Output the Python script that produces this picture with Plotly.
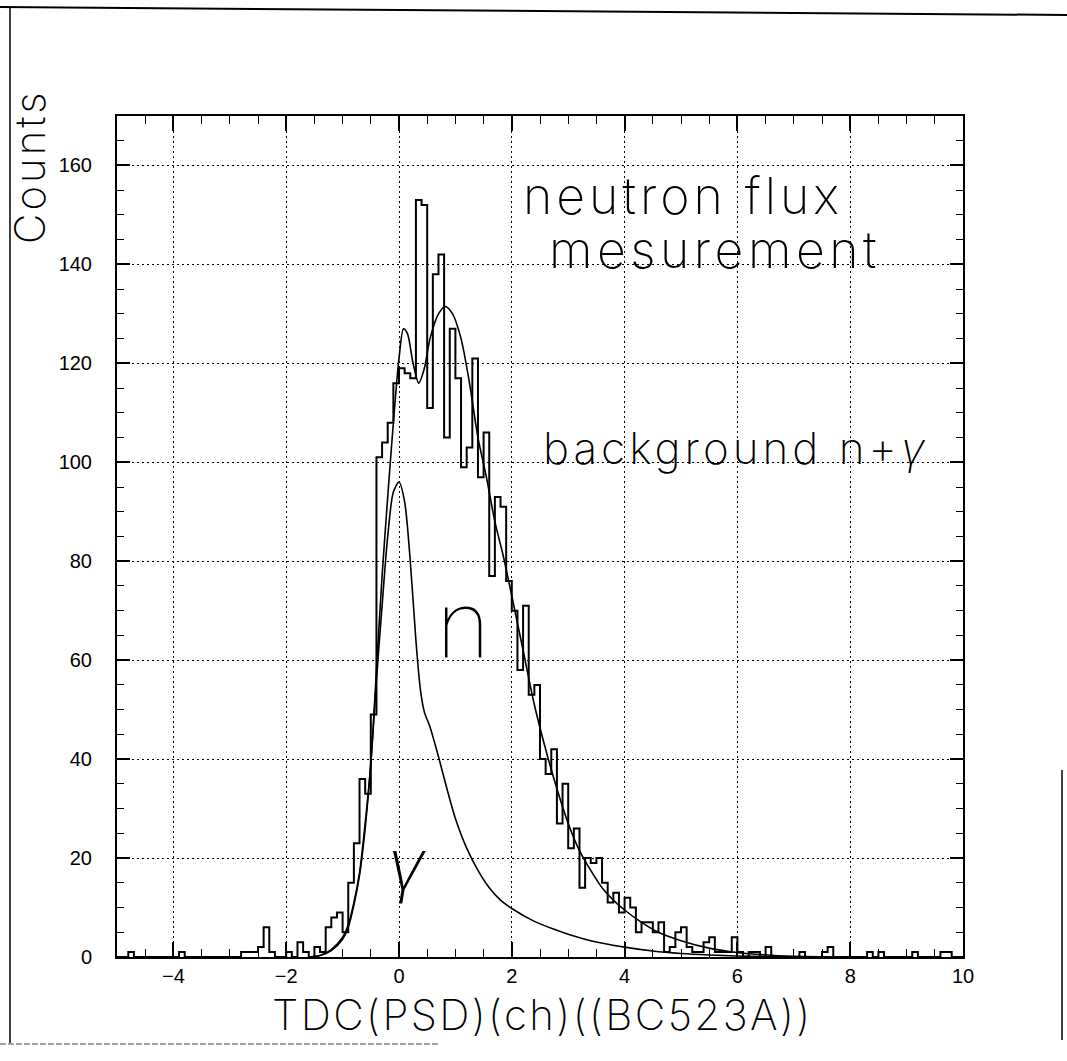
import numpy as np
import plotly.graph_objects as go

# ---------------- data ----------------
bin_start = -5.0
bin_width = 0.1
counts = [0] * 150
nonzero_bins = {
    -4.8: 1, -3.9: 1,
    -2.8: 1, -2.7: 1, -2.6: 1, -2.5: 2, -2.4: 6, -2.3: 1,
    -2.0: 1, -1.8: 3, -1.7: 1, -1.5: 2, -1.4: 1,
    -1.3: 6, -1.2: 8, -1.1: 9, -1.0: 5, -0.9: 15, -0.8: 23, -0.7: 36,
    -0.6: 33, -0.5: 49, -0.4: 101, -0.3: 104, -0.2: 108, -0.1: 116,
    0.0: 119, 0.1: 118, 0.2: 117, 0.3: 153, 0.4: 152, 0.5: 111,
    0.6: 138, 0.7: 142, 0.8: 105, 0.9: 127, 1.0: 117, 1.1: 99,
    1.2: 103, 1.3: 121, 1.4: 97, 1.5: 106, 1.6: 77, 1.7: 93,
    1.8: 91, 1.9: 76, 2.0: 70, 2.1: 58, 2.2: 71, 2.3: 53, 2.4: 55,
    2.5: 40, 2.6: 37, 2.7: 42, 2.8: 27, 2.9: 35, 3.0: 22, 3.1: 26,
    3.2: 14, 3.3: 20, 3.4: 19, 3.5: 20, 3.6: 15, 3.7: 11, 3.8: 13,
    3.9: 9, 4.0: 12, 4.1: 10, 4.2: 5, 4.3: 7, 4.4: 7, 4.5: 5, 4.6: 7,
    4.7: 1, 4.8: 2, 4.9: 5, 5.0: 6, 5.1: 2, 5.2: 1, 5.3: 1, 5.4: 3,
    5.5: 4, 5.6: 1, 5.7: 1, 5.8: 1, 5.9: 4, 6.0: 1, 6.2: 1, 6.3: 1,
    6.5: 2, 7.1: 1, 7.5: 1, 7.6: 2, 8.3: 1, 8.5: 1, 9.1: 1, 9.6: 1, 9.7: 1,
}
for edge, c in nonzero_bins.items():
    counts[int(round((edge - bin_start) / bin_width))] = c

# fitted curves
total_x = [-1.6, -1.4, -1.2, -1.0, -0.9, -0.8, -0.7, -0.6, -0.5, -0.4, -0.3,
           -0.2, -0.1, 0.0, 0.08, 0.15, 0.25, 0.35, 0.45, 0.55, 0.7, 0.82,
           0.95, 1.1, 1.25, 1.4, 1.55, 1.7, 1.85, 2.0, 2.2, 2.4, 2.6, 2.8,
           3.0, 3.2, 3.4, 3.6, 3.8, 4.0, 4.3, 4.6, 5.0, 5.5, 6.0, 6.5, 7.0,
           7.5, 8.0]
total_y = [0, 0.3, 1.5, 4, 6.5, 11, 17, 27, 39, 58, 77,
           93, 108, 121, 127, 126, 120, 116, 119, 125, 130, 131.5,
           130, 125, 116, 105, 97, 88, 81, 73, 62, 51, 42, 34,
           27, 21.5, 17.5, 14, 11.5, 9.5, 7, 5, 3.3, 1.8, 0.9, 0.4, 0.15,
           0.05, 0]

gamma_x = [-1.6, -1.4, -1.2, -1.0, -0.9, -0.8, -0.7, -0.6, -0.5, -0.4, -0.3,
           -0.2, -0.1, 0.0, 0.1, 0.2, 0.3, 0.38, 0.45, 0.55, 0.7, 0.85,
           1.0, 1.2, 1.4, 1.6, 1.8, 2.0, 2.4, 2.75, 3.0, 3.4, 4.0, 4.5,
           5.0, 5.5, 6.0, 6.5, 7.0]
gamma_y = [0, 0.3, 1.3, 3.6, 6, 10.5, 16.5, 26, 39, 56, 71,
           85, 94, 96, 92, 80, 64, 54, 49.5, 46.5, 40.5, 34,
           28, 22, 17.5, 14, 11.5, 9.8, 7.2, 5.6, 4.6, 3.3, 2.0, 1.2,
           0.7, 0.4, 0.2, 0.1, 0]

x_tick_vals = [-4, -2, 0, 2, 4, 6, 8, 10]
y_tick_vals = [0, 20, 40, 60, 80, 100, 120, 140, 160]

# ---------------- figure ----------------
edges = bin_start + bin_width * np.arange(len(counts) + 1)
step_y = list(counts) + [counts[-1]]

fig = go.Figure()
fig.add_trace(go.Scatter(x=edges, y=step_y, mode="lines",
                         line=dict(shape="hv", color="black", width=2),
                         showlegend=False))
fig.add_trace(go.Scatter(x=total_x, y=total_y, mode="lines",
                         line=dict(shape="spline", smoothing=0.8, color="black", width=1.6),
                         showlegend=False))
fig.add_trace(go.Scatter(x=gamma_x, y=gamma_y, mode="lines",
                         line=dict(shape="spline", smoothing=0.8, color="black", width=1.6),
                         showlegend=False))

L, R, T, B = 117, 104, 116, 104
W, H = 1067, 1061
pw, ph = W - L - R, H - T - B

def px(xp):
    return (xp - L) / pw

def py(yp):
    return (H - B - yp) / ph

def spaced(txt, sp):
    return "<span style='letter-spacing:%spx'>%s</span>" % (sp, txt)

tick_font = dict(family="Liberation Sans, Arial, sans-serif", size=20, color="black")
thin = "Inter, sans-serif"
gam = "<i>γ</i>"

fig.update_xaxes(range=[-5, 10], tickvals=x_tick_vals, ticks="inside", ticklen=15,
                 tickwidth=1.5, tickcolor="black", showline=True, linecolor="black",
                 linewidth=2, mirror="ticks", showgrid=True, gridcolor="black",
                 gridwidth=1.3, griddash="2px,3px", zeroline=False, tickfont=tick_font,
                 ticklabelstandoff=0,
                 minor=dict(dtick=0.5, ticks="inside", ticklen=8, tickcolor="black",
                            tickwidth=1.2, showgrid=False))
fig.update_yaxes(range=[0, 170], tickvals=y_tick_vals, ticks="inside", ticklen=13,
                 tickwidth=1.5, tickcolor="black", showline=True, linecolor="black",
                 linewidth=2, mirror="ticks", showgrid=True, gridcolor="black",
                 gridwidth=1.3, griddash="2px,3px", zeroline=False, tickfont=tick_font,
                 ticklabelstandoff=19,
                 minor=dict(dtick=5, ticks="inside", ticklen=7, tickcolor="black",
                            tickwidth=1.2, showgrid=False))

annotations = [
    dict(text=spaced("Counts", 3), xref="paper", yref="paper", x=px(30), y=py(167),
         textangle=-90, showarrow=False, xanchor="center", yanchor="middle",
         font=dict(family=thin, size=42, color="black", weight=200)),
    dict(text=spaced("TDC(PSD)(ch)((BC523A))", 2.4), xref="paper", yref="paper",
         x=px(542), y=py(1014), showarrow=False, xanchor="center", yanchor="middle",
         font=dict(family=thin, size=42, color="black", weight=200)),
    dict(text=spaced("neutron flux", 4), x=2.16, y=153.8, xanchor="left", yanchor="middle",
         showarrow=False, font=dict(family=thin, size=50, color="black", weight=200)),
    dict(text=spaced("mesurement", 4.5), x=2.62, y=143.0, xanchor="left", yanchor="middle",
         showarrow=False, font=dict(family=thin, size=50, color="black", weight=200)),
    dict(text=spaced("background n+" + gam, 4), x=2.52, y=102.8, xanchor="left", yanchor="middle",
         showarrow=False, font=dict(family=thin, size=44, color="black", weight=200)),
    dict(text="n", x=1.13, y=67.0, xanchor="center", yanchor="middle",
         showarrow=False, font=dict(family="Roboto, sans-serif", size=95, color="black", weight=100)),
    dict(text=gam, x=0.13, y=19.0, xanchor="center", yanchor="middle",
         showarrow=False, font=dict(family=thin, size=70, color="black", weight=200)),
]

shapes = [
    dict(type="line", xref="paper", yref="paper", x0=px(0), y0=py(7), x1=px(1067), y1=py(15),
         line=dict(color="black", width=2)),
    dict(type="line", xref="paper", yref="paper", x0=px(10), y0=py(7), x1=px(10), y1=py(1043),
         line=dict(color="black", width=1.5)),
    dict(type="line", xref="paper", yref="paper", x0=px(0), y0=py(1044), x1=px(440), y1=py(1044),
         line=dict(color="#888888", width=1.5, dash="6px,2px")),
    dict(type="line", xref="paper", yref="paper", x0=px(1062), y0=py(770), x1=px(1062), y1=py(1040),
         line=dict(color="black", width=1.5)),
]

fig.update_layout(width=W, height=H, margin=dict(l=L, r=R, t=T, b=B),
                  paper_bgcolor="white", plot_bgcolor="white",
                  annotations=annotations, shapes=shapes, showlegend=False)

fig.write_html("out.html")
